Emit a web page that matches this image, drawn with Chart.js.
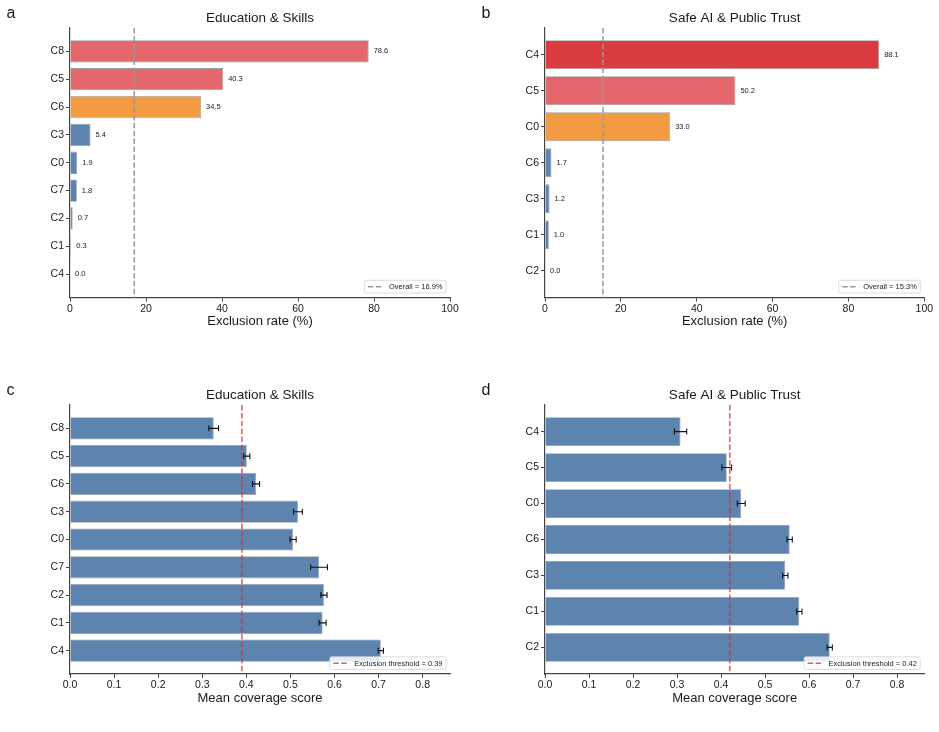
<!DOCTYPE html>
<html>
<head>
<meta charset="utf-8">
<script src="https://cdn.jsdelivr.net/npm/chart.js@4.4.1/dist/chart.umd.min.js"></script>
<style>
  html, body { margin: 0; padding: 0; background: #fff; }
  #wrap { position: relative; width: 939px; height: 732px; overflow: hidden; }
  #wrap canvas { position: absolute; }
</style>
</head>
<body>
<div id="wrap">
  <canvas id="panelA" width="470" height="345" style="left:0;top:0"></canvas>
  <canvas id="panelB" width="469" height="345" style="left:470px;top:0"></canvas>
  <canvas id="panelC" width="470" height="372" style="left:0;top:360px"></canvas>
  <canvas id="panelD" width="469" height="372" style="left:470px;top:360px"></canvas>
</div>
<script>
// ---- data ----
const eduCats = ['C8', 'C5', 'C6', 'C3', 'C0', 'C7', 'C2', 'C1', 'C4'];
const eduExclRates = [78.6, 40.3, 34.5, 5.4, 1.9, 1.8, 0.7, 0.3, 0.0];
const eduOverall = 16.9;

const safeCats = ['C4', 'C5', 'C0', 'C6', 'C3', 'C1', 'C2'];
const safeExclRates = [88.1, 50.2, 33.0, 1.7, 1.2, 1.0, 0.0];
const safeOverall = 15.3;

const eduCovMeans = [0.326, 0.401, 0.422, 0.517, 0.506, 0.565, 0.576, 0.573, 0.705];
const eduCovErr = [0.011, 0.007, 0.008, 0.010, 0.007, 0.019, 0.007, 0.008, 0.006];
const eduThreshold = 0.39;

const safeCovMeans = [0.308, 0.413, 0.446, 0.556, 0.546, 0.578, 0.647];
const safeCovErr = [0.014, 0.011, 0.009, 0.006, 0.006, 0.006, 0.006];
const safeThreshold = 0.42;

const exclTicks = [0, 20, 40, 60, 80, 100];
const covTicks = [0, 0.1, 0.2, 0.3, 0.4, 0.5, 0.6, 0.7, 0.8];

const FONT = '"Liberation Sans", Arial, Helvetica, sans-serif';
const BLUE = '#5d84ae';

function exclColour(rate) {
  if (rate >= 80) return '#d93b3f';
  if (rate >= 40) return '#e4686b';
  if (rate >= 20) return '#f29b40';
  return BLUE;
}

// extra drawing: reference line, error bars, value labels, legend box, title, panel letter
const panelDecor = {
  id: 'panelDecor',
  afterDatasetsDraw(chart, args, opts) {
    const ctx = chart.ctx;
    const xs = chart.scales.x, ys = chart.scales.y;
    const area = chart.chartArea;
    const meta = chart.getDatasetMeta(0);
    ctx.save();

    if (opts.errors) {
      ctx.strokeStyle = '#111';
      ctx.lineWidth = 1.1;
      opts.errors.forEach((e, i) => {
        const v = opts.values[i];
        const y = ys.getPixelForValue(i);
        const x0 = xs.getPixelForValue(v - e), x1 = xs.getPixelForValue(v + e);
        ctx.beginPath();
        ctx.moveTo(x0, y); ctx.lineTo(x1, y);
        ctx.moveTo(x0, y - 3); ctx.lineTo(x0, y + 3);
        ctx.moveTo(x1, y - 3); ctx.lineTo(x1, y + 3);
        ctx.stroke();
      });
    }

    if (opts.valueLabels) {
      ctx.font = '7.5px ' + FONT;
      ctx.fillStyle = '#222';
      ctx.textAlign = 'left';
      ctx.textBaseline = 'middle';
      meta.data.forEach((bar, i) => {
        ctx.fillText(opts.values[i].toFixed(1), bar.x + 5, bar.y);
      });
    }

    // vertical reference line
    const rx = xs.getPixelForValue(opts.refValue);
    ctx.setLineDash([5.5, 2.4]);
    ctx.strokeStyle = opts.refColor;
    ctx.lineWidth = 1.5;
    ctx.beginPath();
    ctx.moveTo(rx, area.top);
    ctx.lineTo(rx, area.bottom);
    ctx.stroke();

    // legend box, lower right
    ctx.setLineDash([]);
    ctx.font = '7.5px ' + FONT;
    const tw = ctx.measureText(opts.legendText).width;
    const bw = 3.5 + 16 + 5 + tw + 3.5, bh = 12.7;
    const bx = area.right - 4 - bw, by = area.bottom - 4.5 - bh;
    ctx.beginPath();
    ctx.roundRect(bx, by, bw, bh, 2);
    ctx.fillStyle = 'rgba(255,255,255,0.85)';
    ctx.fill();
    ctx.strokeStyle = '#d4d4d4';
    ctx.lineWidth = 0.8;
    ctx.stroke();
    ctx.setLineDash([5.5, 2.4]);
    ctx.strokeStyle = opts.refColor;
    ctx.lineWidth = 1.5;
    ctx.beginPath();
    ctx.moveTo(bx + 3.5, by + bh / 2);
    ctx.lineTo(bx + 19.5, by + bh / 2);
    ctx.stroke();
    ctx.setLineDash([]);
    ctx.fillStyle = '#222';
    ctx.textAlign = 'left';
    ctx.textBaseline = 'middle';
    ctx.fillText(opts.legendText, bx + 24.5, by + bh / 2 + 0.5);

    ctx.restore();
  },
  afterDraw(chart, args, opts) {
    const ctx = chart.ctx, area = chart.chartArea;
    ctx.save();
    ctx.fillStyle = '#1a1a1a';
    ctx.textBaseline = 'middle';
    ctx.textAlign = 'center';
    ctx.font = '13.5px ' + FONT;
    ctx.fillText(opts.title, (area.left + area.right) / 2, area.top - 10);
    ctx.textAlign = 'left';
    ctx.font = '16px ' + FONT;
    ctx.fillText(opts.letter, opts.letterX, area.top - 14);
    ctx.restore();
  }
};

function makePanel(id, cfg) {
  const canvas = document.getElementById(id);
  const W = canvas.width, H = canvas.height;
  const n = cfg.cats.length;
  const yWidth = cfg.area.l;
  const padTop = cfg.area.t;
  const padRight = W - cfg.area.r;
  const xHeight = H - cfg.area.b;

  return new Chart(canvas, {
    type: 'bar',
    data: {
      datasets: [{
        data: cfg.values.map((v, i) => ({ x: v, y: i })),
        backgroundColor: cfg.colours,
        borderColor: 'rgba(40,40,50,0.45)',
        borderWidth: 0.8,
        borderSkipped: 'start',
        categoryPercentage: 1,
        barPercentage: 0.8
      }]
    },
    options: {
      indexAxis: 'y',
      animation: false,
      responsive: false,
      devicePixelRatio: 1,
      layout: { padding: { left: 0, top: padTop, right: padRight, bottom: 0 } },
      plugins: {
        legend: { display: false },
        title: { display: false },
        tooltip: { enabled: false },
        panelDecor: {
          title: cfg.title,
          letter: cfg.letter,
          letterX: cfg.letterX,
          values: cfg.values,
          errors: cfg.errors,
          valueLabels: cfg.valueLabels,
          refValue: cfg.refValue,
          refColor: cfg.refColor,
          legendText: cfg.legendText
        }
      },
      scales: {
        y: {
          type: 'linear',
          reverse: true,
          offset: false,
          min: -0.4 - (n - 0.2) * 0.05,
          max: n - 0.6 + (n - 0.2) * 0.05,
          afterBuildTicks: s => { s.ticks = cfg.cats.map((c, i) => ({ value: i })); },
          afterFit: s => { s.width = yWidth; },
          ticks: {
            callback: v => cfg.cats[v],
            font: { family: FONT, size: 10.5 },
            color: '#1a1a1a',
            padding: 2,
            autoSkip: false
          },
          grid: { display: true, offset: false, drawOnChartArea: false, drawTicks: true, tickLength: 4, color: '#444' },
          border: { display: true, color: '#444', width: 1.2 }
        },
        x: {
          type: 'linear',
          min: 0,
          max: cfg.xMax,
          afterBuildTicks: s => { s.ticks = cfg.xTicks.map(v => ({ value: v })); },
          afterFit: s => { s.height = xHeight; },
          ticks: {
            callback: cfg.xFormat,
            font: { family: FONT, size: 10.5 },
            color: '#1a1a1a',
            padding: 1,
            maxRotation: 0,
            autoSkip: false
          },
          grid: { display: true, drawOnChartArea: false, drawTicks: true, tickLength: 4, color: '#444' },
          border: { display: true, color: '#444', width: 1.2 },
          title: {
            display: true,
            text: cfg.xTitle,
            font: { family: FONT, size: 13, lineHeight: 1.2 },
            color: '#1a1a1a',
            padding: { top: 0, bottom: cfg.xTitlePad }
          }
        }
      }
    },
    plugins: [panelDecor]
  });
}

makePanel('panelA', {
  cats: eduCats, values: eduExclRates, colours: eduExclRates.map(exclColour),
  title: 'Education & Skills', letter: 'a', letterX: 6.5,
  area: { l: 70, t: 28, r: 450, b: 297.5 },
  xMax: 100, xTicks: exclTicks, xFormat: v => String(v),
  xTitle: 'Exclusion rate (%)', xTitlePad: 16,
  valueLabels: true, refValue: eduOverall, refColor: '#999999',
  legendText: 'Overall = ' + eduOverall.toFixed(1) + '%'
});

makePanel('panelB', {
  cats: safeCats, values: safeExclRates, colours: safeExclRates.map(exclColour),
  title: 'Safe AI & Public Trust', letter: 'b', letterX: 11.5,
  area: { l: 75, t: 28, r: 454.3, b: 297.5 },
  xMax: 100, xTicks: exclTicks, xFormat: v => String(v),
  xTitle: 'Exclusion rate (%)', xTitlePad: 16,
  valueLabels: true, refValue: safeOverall, refColor: '#999999',
  legendText: 'Overall = ' + safeOverall.toFixed(1) + '%'
});

makePanel('panelC', {
  cats: eduCats, values: eduCovMeans, colours: eduCovMeans.map(() => BLUE),
  errors: eduCovErr,
  title: 'Education & Skills', letter: 'c', letterX: 6.5,
  area: { l: 70, t: 45, r: 450, b: 314 },
  xMax: 0.862, xTicks: covTicks, xFormat: v => v.toFixed(1),
  xTitle: 'Mean coverage score', xTitlePad: 26,
  valueLabels: false, refValue: eduThreshold, refColor: 'rgba(220,50,50,0.8)',
  legendText: 'Exclusion threshold = ' + eduThreshold.toFixed(2)
});

makePanel('panelD', {
  cats: safeCats, values: safeCovMeans, colours: safeCovMeans.map(() => BLUE),
  errors: safeCovErr,
  title: 'Safe AI & Public Trust', letter: 'd', letterX: 11.5,
  area: { l: 75, t: 45, r: 454.3, b: 314 },
  xMax: 0.862, xTicks: covTicks, xFormat: v => v.toFixed(1),
  xTitle: 'Mean coverage score', xTitlePad: 26,
  valueLabels: false, refValue: safeThreshold, refColor: 'rgba(220,50,50,0.8)',
  legendText: 'Exclusion threshold = ' + safeThreshold.toFixed(2)
});
</script>
</body>
</html>
